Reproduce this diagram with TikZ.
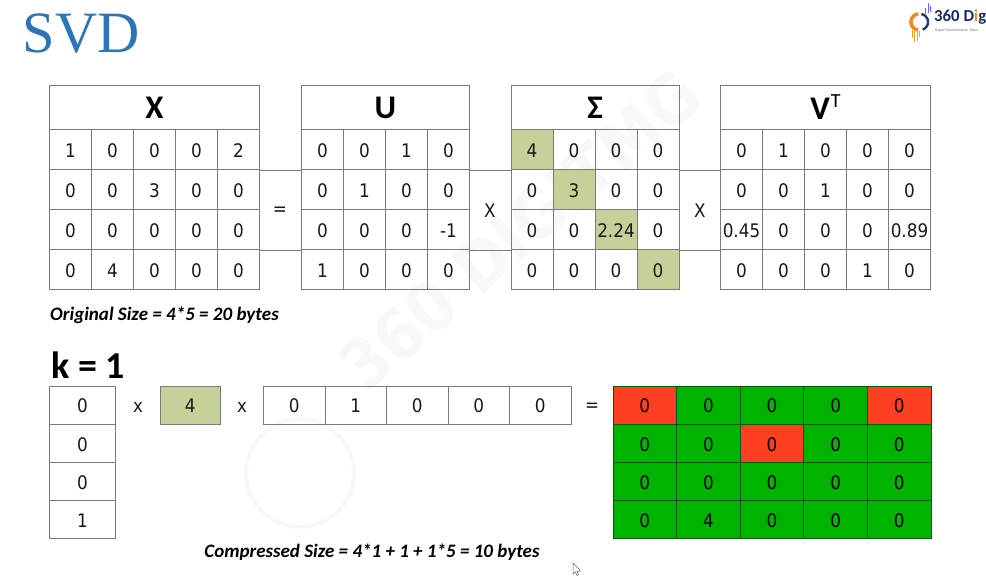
\documentclass[tikz,border=0pt]{standalone}
\usepackage{fontspec}
\setmainfont[FakeStretch=0.9]{DejaVu Sans}
\newfontfamily\cali{Carlito}
\newfontfamily\seriff{Liberation Serif}
\definecolor{sage}{HTML}{C4D29A}
\definecolor{gridc}{HTML}{7A7A7A}
\definecolor{hotred}{HTML}{FF3F22}
\definecolor{gr}{HTML}{00B200}
\definecolor{svdblue}{HTML}{2E75B6}
\definecolor{logoblue}{HTML}{1F3A7A}
\definecolor{logoorange}{HTML}{F08A24}
\definecolor{wmc}{HTML}{FAF7F8}
\tikzset{
  cellbox/.style={draw=gridc,line width=0.7pt,inner sep=0pt,font=\fontsize{18.7}{19}\selectfont,text=black!90,text height=15.6pt,text depth=0pt,anchor=center},
  headbox/.style={draw=gridc,line width=0.7pt,inner sep=0pt,font=\cali\fontsize{33}{33}\selectfont\bfseries,text=black,anchor=center},
  link/.style={draw=gridc,line width=0.6pt},
  opsign/.style={font=\fontsize{18.7}{19}\selectfont,text=black!90,inner sep=0pt},
  opsmall/.style={font=\fontsize{18.5}{19}\selectfont,text=black!90,inner sep=0pt},
  capt/.style={font=\cali\fontsize{19}{19}\selectfont\bfseries\itshape,text=black,inner sep=0pt},
  wmark/.style={text=wmc,font=\fontsize{68}{68}\selectfont\bfseries,rotate=40.6,inner sep=0pt}
}
\newcounter{colnr}
\newcommand{\tblrow}[7]{%
  \setcounter{colnr}{0}%
  \foreach \val/\fil in {#7}{%
    \pgfmathsetmacro{\cx}{#3+(\thecolnr+0.5)*#5}%
    \node[cellbox,minimum width=#5pt,minimum height=#6pt,fill=\fil] (#1#2c\thecolnr) at (\cx,#4) {\val};%
    \stepcounter{colnr}%
    \pgfmathtruncatemacro{\nxt}{\thecolnr}\global\setcounter{colnr}{\nxt}%
  }%
}
\begin{document}
\begin{tikzpicture}[x=1pt,y=-1pt]
\useasboundingbox (0,0) rectangle (986,577);
% watermark
\node[wmark] (wm) at (520,230) {360 DIGITMG};
\draw[wmc,line width=4pt] (300,473) circle[radius=54];
% title and logo
\node[font=\seriff\fontsize{58.5}{58}\selectfont,text=svdblue,inner sep=0pt] (title) at (81,34) {SVD};
\draw[logoorange,line width=3.6pt] plot[domain=95:265,samples=24] ({919+8*cos(\x)},{22+8*sin(\x)});
\draw[logoblue,line width=2.4pt] plot[domain=-80:70,samples=24] ({920+8*cos(\x)},{22+8*sin(\x)});
\foreach \xx/\yy/\ll in {911.5/30/8,914/31/11,916.5/32/9,919/31/6}{\fill[logoorange!80!yellow] (\xx,\yy) rectangle ++(1.3,\ll);}
\foreach \xx/\yy/\ll in {925/8/6,927.5/3/10,930/6/6}{\fill[blue!60] (\xx,\yy) rectangle ++(1.3,\ll);}
\node[font=\cali\fontsize{16.8}{17}\selectfont\bfseries,text=logoblue!80!black,inner sep=0pt,anchor=west] (logo) at (934,17) {360 D\textcolor{logoorange}{i}g};
\node[font=\fontsize{3.3}{4}\selectfont,text=black!60,inner sep=0pt,anchor=west] (logosub) at (935,31) {Digital Transformation -Mana};
% X
\node[headbox,minimum width=210pt,minimum height=44pt] (Xh) at (154.5,107.5) {X};
\tblrow{X}{0}{49.5}{149.5}{42}{40}{1/none,0/none,0/none,0/none,2/none}
\tblrow{X}{1}{49.5}{189.5}{42}{40}{0/none,0/none,3/none,0/none,0/none}
\tblrow{X}{2}{49.5}{229.5}{42}{40}{0/none,0/none,0/none,0/none,0/none}
\tblrow{X}{3}{49.5}{269.5}{42}{40}{0/none,4/none,0/none,0/none,0/none}
% U
\node[headbox,minimum width=168pt,minimum height=44pt] (Uh) at (385.5,107.5) {U};
\tblrow{U}{0}{301.5}{149.5}{42}{40}{0/none,0/none,1/none,0/none}
\tblrow{U}{1}{301.5}{189.5}{42}{40}{0/none,1/none,0/none,0/none}
\tblrow{U}{2}{301.5}{229.5}{42}{40}{0/none,0/none,0/none,-1/none}
\tblrow{U}{3}{301.5}{269.5}{42}{40}{1/none,0/none,0/none,0/none}
% Sigma
\node[headbox,minimum width=168pt,minimum height=44pt] (Sh) at (595,107.5) {Σ};
\tblrow{S}{0}{511}{149.5}{42}{40}{4/sage,0/none,0/none,0/none}
\tblrow{S}{1}{511}{189.5}{42}{40}{0/none,3/sage,0/none,0/none}
\tblrow{S}{2}{511}{229.5}{42}{40}{0/none,0/none,2.24/sage,0/none}
\tblrow{S}{3}{511}{269.5}{42}{40}{0/none,0/none,0/none,0/sage}
% V
\node[headbox,minimum width=210pt,minimum height=44pt] (Vh) at (825.5,107.5) {V\raisebox{0.36em}{\kern1pt\fontsize{20}{20}\selectfont\mdseries T}};
\tblrow{V}{0}{720.5}{149.5}{42}{40}{0/none,1/none,0/none,0/none,0/none}
\tblrow{V}{1}{720.5}{189.5}{42}{40}{0/none,0/none,1/none,0/none,0/none}
\tblrow{V}{2}{720.5}{229.5}{42}{40}{0.45/none,0/none,0/none,0/none,0.89/none}
\tblrow{V}{3}{720.5}{269.5}{42}{40}{0/none,0/none,0/none,1/none,0/none}
% links between the tables
\draw[link] (X0c4.south east) -- (U0c0.south west);
\draw[link] (X2c4.south east) -- (U2c0.south west);
\draw[link] (U0c3.south east) -- (S0c0.south west);
\draw[link] (U2c3.south east) -- (S2c0.south west);
\draw[link] (S0c3.south east) -- (V0c0.south west);
\draw[link] (S2c3.south east) -- (V2c0.south west);
% operators
\node[opsign] (eq1) at (280,211) {=};
\node[opsign] (x1) at (490,211) {X};
\node[opsign] (x2) at (700,211) {X};
\node[capt,anchor=west] (orig) at (50,315.5) {Original Size = 4*5 = 20 bytes};
% k=1
\node[font=\cali\fontsize{38}{38}\selectfont\bfseries,text=black,inner sep=0pt,anchor=west] (k) at (51,365) {k = 1};
\tblrow{A}{0}{49.5}{405.2}{66}{38.1}{0/none}
\tblrow{A}{1}{49.5}{443.3}{66}{38.1}{0/none}
\tblrow{A}{2}{49.5}{481.4}{66}{38.1}{0/none}
\tblrow{A}{3}{49.5}{519.5}{66}{38.1}{1/none}
\node[opsmall] (x3) at (138,407) {x};
\tblrow{B}{0}{160.5}{405.2}{59.5}{38.1}{4/sage}
\node[opsmall] (x4) at (242,407) {x};
\tblrow{C}{0}{263.5}{405.2}{61.5}{38.1}{0/none,1/none,0/none,0/none,0/none}
\node[opsmall] (eq2) at (592,407) {=};
\begin{scope}[cellbox/.append style={draw=green!35!black,text=black}]
\tblrow{D}{0}{613}{405.2}{63.6}{38.1}{0/hotred,0/gr,0/gr,0/gr,0/hotred}
\tblrow{D}{1}{613}{443.3}{63.6}{38.1}{0/gr,0/gr,0/hotred,0/gr,0/gr}
\tblrow{D}{2}{613}{481.4}{63.6}{38.1}{0/gr,0/gr,0/gr,0/gr,0/gr}
\tblrow{D}{3}{613}{519.5}{63.6}{38.1}{0/gr,4/gr,0/gr,0/gr,0/gr}
\end{scope}
\node[capt] (comp) at (372,552) {Compressed Size = 4*1 + 1 + 1*5 = 10 bytes};
% pointer
\draw[black!60,fill=white,line width=0.5pt] (573,563) -- (573,574) -- (575.5,572) -- (577,575.5) -- (578.5,574.8) -- (577,571.5) -- (580.5,571) -- cycle;
\end{tikzpicture}
\end{document}
